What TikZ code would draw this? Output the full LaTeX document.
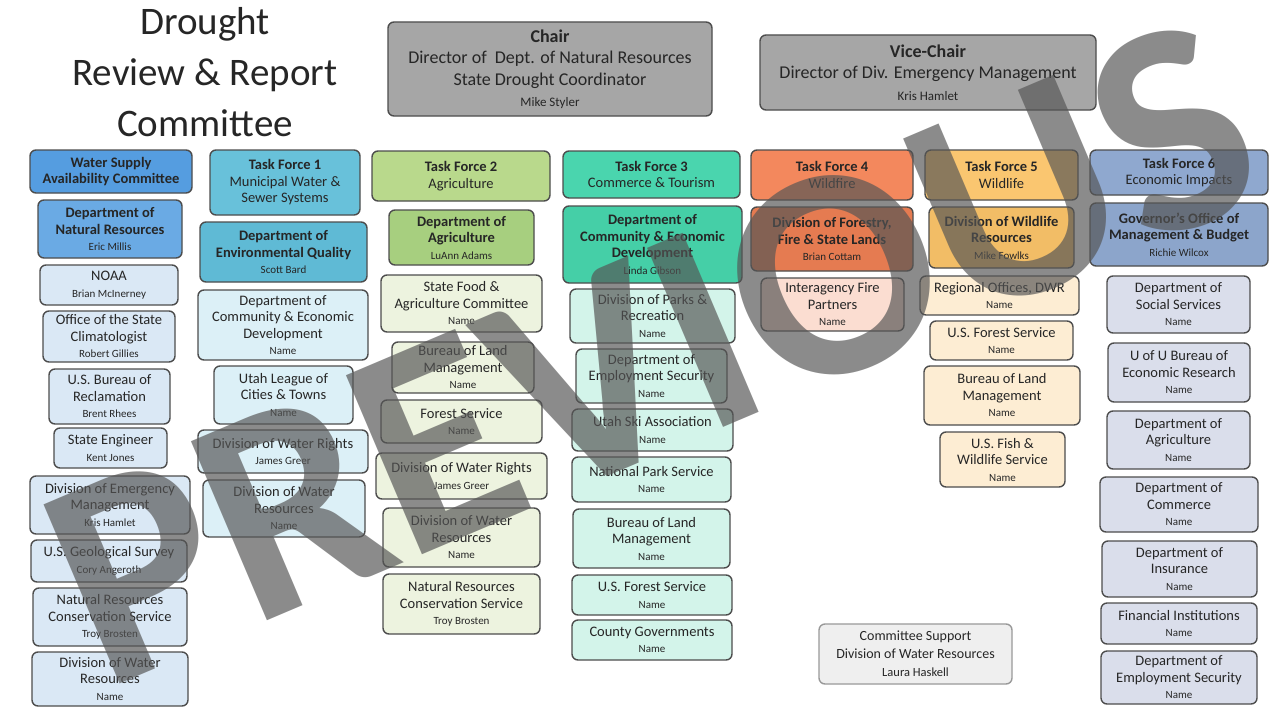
\documentclass[tikz,border=0pt]{standalone}
\usepackage{fontspec}
\setmainfont{Carlito}
\definecolor{bdr}{HTML}{4D4D4D}
\definecolor{txt}{HTML}{262626}
\definecolor{chairF}{HTML}{A6A6A6}
\definecolor{wsH}{HTML}{559DE0}
\definecolor{wsL}{HTML}{6AAAE4}
\definecolor{wsI}{HTML}{DAE8F5}
\definecolor{t1H}{HTML}{68C1DA}
\definecolor{t1L}{HTML}{5FBAD5}
\definecolor{t1I}{HTML}{DCF0F7}
\definecolor{t2H}{HTML}{B9D98C}
\definecolor{t2L}{HTML}{A7CF7F}
\definecolor{t2I}{HTML}{EDF3DF}
\definecolor{t3H}{HTML}{4AD5AE}
\definecolor{t3L}{HTML}{45CFA7}
\definecolor{t3I}{HTML}{D3F4EA}
\definecolor{t4H}{HTML}{F3885D}
\definecolor{t4L}{HTML}{E57B51}
\definecolor{t4I}{HTML}{FBDDD1}
\definecolor{t5H}{HTML}{FAC670}
\definecolor{t5L}{HTML}{F2BD66}
\definecolor{t5I}{HTML}{FDEDD3}
\definecolor{t6H}{HTML}{8FA8CF}
\definecolor{t6L}{HTML}{8CA5CB}
\definecolor{t6I}{HTML}{DADEEB}
\definecolor{supF}{HTML}{EFEFEF}
\definecolor{wm}{HTML}{555555}
\newcommand\nm[1]{{\fontsize{11}{12}\selectfont #1}}
\newcommand\bx[7]{\node[#2, minimum width={#5-#3}, minimum height={#6-#4}] (#1) at ({(#3+#5)/2},{(#4+#6)/2}) {#7};}
\begin{document}
\begin{tikzpicture}[x=1pt,y=-1pt,
  box/.style={draw=bdr, line width=1.4pt, rounded corners=6pt, align=center, inner sep=1pt,
    font=\fontsize{14.5}{16.5}\selectfont, text=txt},
  big/.style={box, font=\fontsize{18}{21.5}\selectfont, draw=bdr, fill=chairF}]
\useasboundingbox (0,0) rectangle (1281,709);
\fill[white] (0,0) rectangle (1281,709);

\node[font=\fontsize{39}{51}\selectfont, align=center, text=txt] (title) at (205,72) {Drought\\Review \& Report\\Committee};

\bx{chair}{big}{388}{22}{712}{116}{\textbf{Chair}\\Director of\ \ Dept. of Natural Resources\\State Drought Coordinator\\{\fontsize{13}{14}\selectfont Mike Styler}}
\bx{vice}{big}{760}{35}{1096}{110}{\textbf{Vice-Chair}\\Director of Div. Emergency Management\\{\fontsize{13}{14}\selectfont Kris Hamlet}}

% Water Supply
\bx{wsh}{box,fill=wsH}{30}{150}{192}{193}{\textbf{Water Supply}\\\textbf{Availability Committee}}
\bx{wsl}{box,fill=wsL}{38}{200}{182}{258}{\textbf{Department of}\\\textbf{Natural Resources}\\\nm{Eric Millis}}
\bx{ws1}{box,fill=wsI}{40}{265}{178}{305}{NOAA\\\nm{Brian McInerney}}
\bx{ws2}{box,fill=wsI}{43}{311}{175}{362}{Office of the State\\Climatologist\\\nm{Robert Gillies}}
\bx{ws3}{box,fill=wsI}{49}{369}{170}{424}{U.S. Bureau of\\Reclamation\\\nm{Brent Rhees}}
\bx{ws4}{box,fill=wsI}{54}{428}{167}{468}{State Engineer\\\nm{Kent Jones}}
\bx{ws5}{box,fill=wsI}{30}{476}{190}{534}{Division of Emergency\\Management\\\nm{Kris Hamlet}}
\bx{ws6}{box,fill=wsI}{31}{540}{187}{582}{U.S. Geological Survey\\\nm{Cory Angeroth}}
\bx{ws7}{box,fill=wsI}{33}{588}{187}{646}{Natural Resources\\Conservation Service\\\nm{Troy Brosten}}
\bx{ws8}{box,fill=wsI}{32}{652}{188}{706}{Division of Water\\Resources\\\nm{Name}}

% Task Force 1
\bx{t1h}{box,fill=t1H}{210}{150}{360}{215}{\textbf{Task Force 1}\\Municipal Water \&\\Sewer Systems}
\bx{t1l}{box,fill=t1L}{200}{222}{367}{282}{\textbf{Department of}\\\textbf{Environmental Quality}\\\nm{Scott Bard}}
\bx{t1a}{box,fill=t1I}{198}{290}{368}{360}{Department of\\Community \& Economic\\Development\\\nm{Name}}
\bx{t1b}{box,fill=t1I}{214}{366}{353}{424}{Utah League of\\Cities \& Towns\\\nm{Name}}
\bx{t1c}{box,fill=t1I}{198}{430}{368}{473}{Division of Water Rights\\\nm{James Greer}}
\bx{t1d}{box,fill=t1I}{203}{480}{365}{537}{Division of Water\\Resources\\\nm{Name}}

% Task Force 2
\bx{t2h}{box,fill=t2H}{372}{151}{550}{201}{\textbf{Task Force 2}\\Agriculture}
\bx{t2l}{box,fill=t2L}{389}{210}{534}{265}{\textbf{Department of}\\\textbf{Agriculture}\\\nm{LuAnn Adams}}
\bx{t2a}{box,fill=t2I}{381}{275}{542}{332}{State Food \&\\Agriculture Committee\\\nm{Name}}
\bx{t2b}{box,fill=t2I}{392}{342}{534}{393}{Bureau of Land\\Management\\\nm{Name}}
\bx{t2c}{box,fill=t2I}{381}{400}{542}{443}{Forest Service\\\nm{Name}}
\bx{t2d}{box,fill=t2I}{376}{453}{547}{499}{Division of Water Rights\\\nm{James Greer}}
\bx{t2e}{box,fill=t2I}{383}{508}{540}{567}{Division of Water\\Resources\\\nm{Name}}
\bx{t2f}{box,fill=t2I}{383}{574}{540}{634}{Natural Resources\\Conservation Service\\\nm{Troy Brosten}}

% Task Force 3
\bx{t3h}{box,fill=t3H}{563}{151}{740}{198}{\textbf{Task Force 3}\\Commerce \& Tourism}
\bx{t3l}{box,fill=t3L}{563}{206}{742}{283}{\textbf{Department of}\\\textbf{Community \& Economic}\\\textbf{Development}\\\nm{Linda Gibson}}
\bx{t3a}{box,fill=t3I}{570}{289}{735}{343}{Division of Parks \&\\Recreation\\\nm{Name}}
\bx{t3b}{box,fill=t3I}{576}{349}{727}{403}{Department of\\Employment Security\\\nm{Name}}
\bx{t3c}{box,fill=t3I}{572}{409}{733}{451}{Utah Ski Association\\\nm{Name}}
\bx{t3d}{box,fill=t3I}{572}{457}{731}{502}{National Park Service\\\nm{Name}}
\bx{t3e}{box,fill=t3I}{573}{509}{730}{568}{Bureau of Land\\Management\\\nm{Name}}
\bx{t3f}{box,fill=t3I}{572}{575}{732}{615}{U.S. Forest Service\\\nm{Name}}
\bx{t3g}{box,fill=t3I}{572}{620}{732}{660}{County Governments\\\nm{Name}}

% Task Force 4
\bx{t4h}{box,fill=t4H}{751}{150}{913}{200}{\textbf{Task Force 4}\\Wildfire}
\bx{t4l}{box,fill=t4L}{751}{207}{913}{271}{\textbf{Division of Forestry,}\\\textbf{Fire \& State Lands}\\\nm{Brian Cottam}}
\bx{t4a}{box,fill=t4I}{761}{278}{904}{331}{Interagency Fire\\Partners\\\nm{Name}}

% Task Force 5
\bx{t5h}{box,fill=t5H}{925}{150}{1078}{200}{\textbf{Task Force 5}\\Wildlife}
\bx{t5l}{box,fill=t5L}{929}{207}{1074}{268}{\textbf{Division of Wildlife}\\\textbf{Resources}\\\nm{Mike Fowlks}}
\bx{t5a}{box,fill=t5I}{920}{276}{1079}{315}{Regional Offices, DWR\\\nm{Name}}
\bx{t5b}{box,fill=t5I}{930}{321}{1073}{360}{U.S. Forest Service\\\nm{Name}}
\bx{t5c}{box,fill=t5I}{924}{366}{1080}{425}{Bureau of Land\\Management\\\nm{Name}}
\bx{t5d}{box,fill=t5I}{940}{432}{1065}{487}{U.S. Fish \&\\Wildlife Service\\\nm{Name}}

% Task Force 6
\bx{t6h}{box,fill=t6H}{1090}{150}{1268}{195}{\textbf{Task Force 6}\\Economic Impacts}
\bx{t6l}{box,fill=t6L}{1090}{203}{1268}{266}{\textbf{Governor's Office of}\\\textbf{Management \& Budget}\\\nm{Richie Wilcox}}
\bx{t6a}{box,fill=t6I}{1107}{276}{1250}{333}{Department of\\Social Services\\\nm{Name}}
\bx{t6b}{box,fill=t6I}{1108}{343}{1250}{402}{U of U Bureau of\\Economic Research\\\nm{Name}}
\bx{t6c}{box,fill=t6I}{1107}{411}{1250}{469}{Department of\\Agriculture\\\nm{Name}}
\bx{t6d}{box,fill=t6I}{1100}{477}{1258}{532}{Department of\\Commerce\\\nm{Name}}
\bx{t6e}{box,fill=t6I}{1102}{541}{1257}{597}{Department of\\Insurance\\\nm{Name}}
\bx{t6f}{box,fill=t6I}{1101}{603}{1257}{644}{Financial Institutions\\\nm{Name}}
\bx{t6g}{box,fill=t6I}{1101}{651}{1257}{704}{Department of\\Employment Security\\\nm{Name}}

% Committee support
\bx{sup}{box,fill=supF,draw=black!40,font=\fontsize{14}{18}\selectfont}{819}{624}{1012}{684}{Committee Support\\Division of Water Resources\\{\fontsize{12.5}{14}\selectfont Laura Haskell}}

% Watermark
\node[rotate=23, inner sep=0pt, font=\bfseries\fontsize{300}{300}\selectfont, text=wm, opacity=0.68] (wmark) at (652,352) {PREVIOUS};
\end{tikzpicture}
\end{document}
